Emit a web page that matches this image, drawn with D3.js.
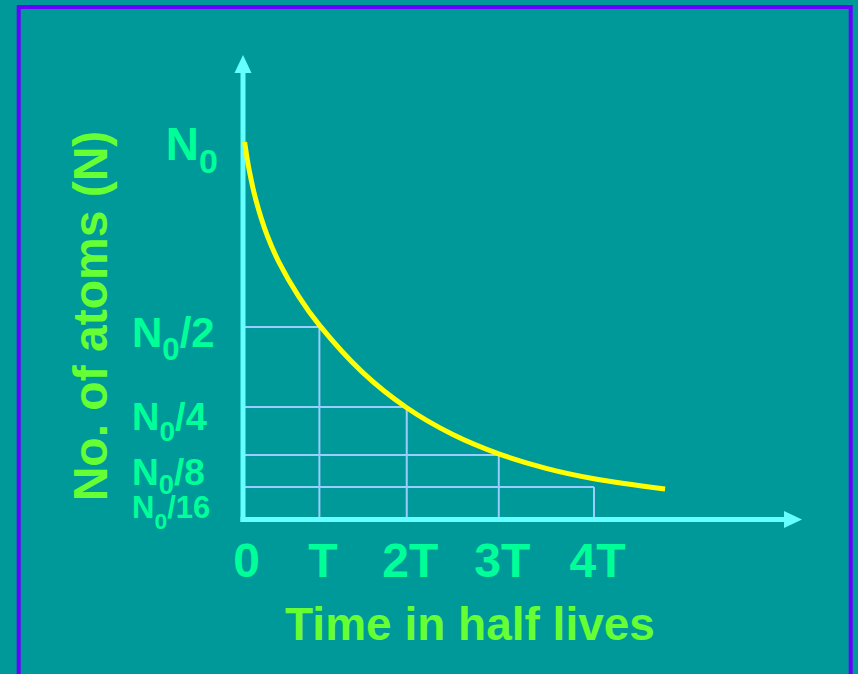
<!DOCTYPE html>
<meta charset="utf-8">
<script src="https://d3js.org/d3.v7.min.js"></script>
<style>
    body { margin: 0; background: #009999; }
    svg { display: block; }
    text { font-family: "Liberation Sans", Arial, sans-serif; font-weight: bold; }
    .grid line { stroke: #99ccff; stroke-width: 2; }
    .axis-line { stroke: #66ffff; stroke-width: 5; }
    .arrow { fill: #66ffff; }
    .curve { fill: none; stroke: #ffff00; stroke-width: 5; }
    .tick-label { fill: #00ff99; }
    .title { fill: #66ff33; }
</style>
<div id="chart"></div>
<script>
// half-life ticks on the time axis
const xTickValues = [0, 1, 2, 3, 4];
const xTickLabels = ["0", "T", "2T", "3T", "4T"];

// fractions of N0 on the vertical axis
const yTickValues = [1, 0.5, 0.25, 0.125, 0.0625];
const yTickLabels = ["N0", "N0/2", "N0/4", "N0/8", "N0/16"];

// decay curve: time (half lives) and N / N0
const curveT = [0.03, 0.1, 0.2, 0.35, 0.5, 0.75, 1, 1.5, 2, 2.5, 3, 3.5, 4, 4.73];
const curveN = [1, 0.926, 0.842, 0.748, 0.677, 0.583, 0.505, 0.359, 0.248, 0.179, 0.128, 0.099, 0.0787, 0.0587];

const width = 858, height = 674;
const x0 = 243, y0 = 519.5;

const svg = d3.select("#chart").append("svg")
    .attr("width", width)
    .attr("height", height);

svg.append("rect").attr("width", width).attr("height", height).attr("fill", "#009999");

// frame
svg.append("rect")
    .attr("x", 18.7).attr("y", 7)
    .attr("width", 832).attr("height", 720)
    .attr("fill", "none")
    .attr("stroke", "#6600ff")
    .attr("stroke-width", 4);

// the sketch is not evenly spaced, so the scales follow its spacing
let x = d3.scalePow().exponent(1.1).domain([0, 4]).range([x0, 594]);
let y = d3.scaleLinear()
    .domain([0, 0.0625, 0.125, 0.25, 0.5, 1])
    .range([y0, 487, 455, 407, 327, 142]);

// grid: one box per half life
const grid = svg.append("g").attr("class", "grid");
const halves = xTickValues.slice(1).map((t, i) => ({t: t, n: yTickValues[i + 1]}));
grid.selectAll("line.h").data(halves).join("line")
    .attr("class", "h")
    .attr("x1", x0).attr("x2", d => x(d.t))
    .attr("y1", d => y(d.n)).attr("y2", d => y(d.n));
grid.selectAll("line.v").data(halves).join("line")
    .attr("class", "v")
    .attr("x1", d => x(d.t)).attr("x2", d => x(d.t))
    .attr("y1", y0).attr("y2", d => y(d.n));

// axes with arrow heads
svg.append("line").attr("class", "axis-line")
    .attr("x1", x0).attr("x2", x0).attr("y1", y0 + 2.5).attr("y2", 70);
svg.append("path").attr("class", "arrow")
    .attr("d", `M${x0 - 8.5},73 L${x0},55 L${x0 + 8.5},73 Z`);
svg.append("line").attr("class", "axis-line")
    .attr("x1", x0 - 2.5).attr("x2", 787).attr("y1", y0).attr("y2", y0);
svg.append("path").attr("class", "arrow")
    .attr("d", `M784,${y0 - 8.5} L802,${y0} L784,${y0 + 8.5} Z`);

// decay curve
const pts = curveT.map((t, i) => [t, curveN[i]]);
let line = d3.line().x(d => x(d[0])).y(d => y(d[1])).curve(d3.curveCatmullRom.alpha(0.5));
svg.append("path").datum(pts).attr("class", "curve").attr("d", line);

// x tick labels through the axis generator
const xAxis = svg.append("g")
    .attr("transform", `translate(0,${y0})`)
    .call(d3.axisBottom(x).tickValues(xTickValues)
        .tickFormat((d, i) => xTickLabels[i]).tickSize(0).tickPadding(23.5));
xAxis.select(".domain").remove();
xAxis.selectAll("text")
    .attr("class", "tick-label")
    .attr("dx", 3)
    .attr("font-size", 48)
    .attr("font-family", null);

// y tick labels with subscript zero
const labelStyle = {
    "N0":    {size: 46, x: 218, anchor: "end",   dy: 18, sub: 13},
    "N0/2":  {size: 42, x: 132, anchor: "start", dy: 20, sub: 13},
    "N0/4":  {size: 38, x: 132, anchor: "start", dy: 23, sub: 11},
    "N0/8":  {size: 37, x: 132, anchor: "start", dy: 30, sub: 9},
    "N0/16": {size: 31, x: 132, anchor: "start", dy: 31, sub: 11}
};
yTickLabels.forEach((lab, i) => {
    const s = labelStyle[lab];
    const t = svg.append("text")
        .attr("class", "tick-label")
        .attr("x", s.x)
        .attr("y", y(yTickValues[i]) + s.dy)
        .attr("text-anchor", s.anchor)
        .attr("font-size", s.size);
    t.append("tspan").text("N");
    t.append("tspan").attr("dy", s.sub).attr("font-size", s.size * 0.74).text("0");
    const rest = lab.slice(2);
    if (rest) t.append("tspan").attr("dy", -s.sub).text(rest);
});

// axis titles
svg.append("text").attr("class", "title")
    .attr("x", 470).attr("y", 640)
    .attr("text-anchor", "middle")
    .attr("font-size", 46)
    .text("Time in half lives");

svg.append("text").attr("class", "title")
    .attr("transform", "translate(107,316) rotate(-90)")
    .attr("text-anchor", "middle")
    .attr("font-size", 48)
    .text("No. of atoms (N)");
</script>
